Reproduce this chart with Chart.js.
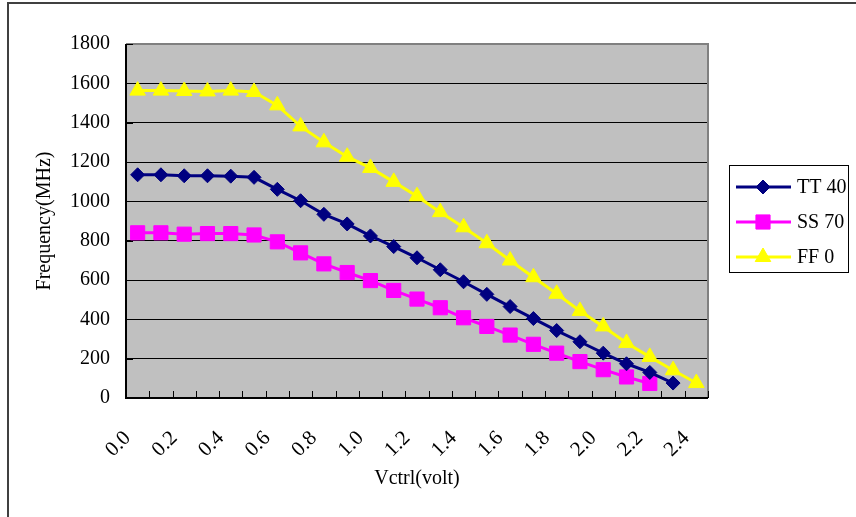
<!DOCTYPE html>
<html>
<head>
<meta charset="utf-8">
<script src="https://cdn.jsdelivr.net/npm/chart.js@4"></script>
<style>
  html, body { margin: 0; padding: 0; background: #fff; }
</style>
</head>
<body>
<canvas id="myChart" width="856" height="517"></canvas>
<script>
// x categories (Vctrl in volt) and the labels shown on the axis
const vctrl = ['0.0', '0.1', '0.2', '0.3', '0.4', '0.5', '0.6', '0.7', '0.8', '0.9',
    '1.0', '1.1', '1.2', '1.3', '1.4', '1.5', '1.6', '1.7', '1.8', '1.9',
    '2.0', '2.1', '2.2', '2.3', '2.4'];
const tickLabels = ['0.0', '0.2', '0.4', '0.6', '0.8', '1.0', '1.2', '1.4', '1.6', '1.8', '2.0', '2.2', '2.4'];

const seriesNames = ['TT 40', 'SS 70', 'FF 0'];

// Frequency (MHz)
const tt40 = [1135, 1135, 1130, 1130, 1128, 1122, 1061, 1003, 934, 885,
    824, 770, 713, 652, 591, 527, 465, 404, 343, 286,
    228, 174, 130, 76];
const ss70 = [840, 840, 833, 836, 836, 829, 794, 738, 682, 638,
    597, 547, 503, 459, 408, 364, 320, 273, 228, 185,
    144, 107, 74];
const ff0 = [1563, 1563, 1561, 1559, 1563, 1556, 1488, 1381, 1300, 1227,
    1170, 1099, 1026, 945, 868, 787, 699, 614, 530, 442,
    364, 280, 209, 141, 76];

const yTicks = [0, 200, 400, 600, 800, 1000, 1200, 1400, 1600, 1800];

Chart.defaults.font.family = "'Liberation Serif', 'Times New Roman', serif";
Chart.defaults.font.size = 20;
Chart.defaults.color = '#000';

// gray plot area + outer frame of the picture
const plotBackground = {
    id: 'plotBackground',
    beforeDraw(chart) {
        const ctx = chart.ctx;
        const a = chart.chartArea;
        ctx.save();
        ctx.fillStyle = '#fff';
        ctx.fillRect(0, 0, chart.width, chart.height);
        ctx.strokeStyle = '#404040';
        ctx.lineWidth = 2;
        ctx.beginPath();
        ctx.moveTo(8, chart.height);
        ctx.lineTo(8, 3);
        ctx.lineTo(chart.width, 3);
        ctx.stroke();
        ctx.fillStyle = '#c0c0c0';
        ctx.fillRect(a.left, a.top, a.right - a.left, a.bottom - a.top);
        ctx.restore();
    }
};

// axis lines, plot border and inside tick marks
const plotFrame = {
    id: 'plotFrame',
    beforeDatasetsDraw(chart) {
        const ctx = chart.ctx;
        const a = chart.chartArea;
        const xs = chart.scales.x;
        const ys = chart.scales.y;
        ctx.save();
        ctx.lineWidth = 2;
        ctx.strokeStyle = '#808080';
        ctx.beginPath();
        ctx.moveTo(a.left, a.top);
        ctx.lineTo(a.right, a.top);
        ctx.lineTo(a.right, a.bottom);
        ctx.stroke();
        ctx.strokeStyle = '#000';
        ctx.beginPath();
        ctx.moveTo(a.left, a.top);
        ctx.lineTo(a.left, a.bottom);
        ctx.lineTo(a.right, a.bottom);
        ctx.stroke();

        ctx.lineWidth = 1;
        const step = xs.getPixelForValue(1) - xs.getPixelForValue(0);
        ctx.beginPath();
        for (let i = 0; i <= vctrl.length; i++) {
            const x = Math.round(xs.getPixelForValue(i) - step / 2) + 0.5;
            ctx.moveTo(x, a.bottom);
            ctx.lineTo(x, a.bottom - 7);
        }
        yTicks.forEach(function (v) {
            const y = Math.round(ys.getPixelForValue(v)) + 0.5;
            ctx.moveTo(a.left, y);
            ctx.lineTo(a.left + 7, y);
        });
        ctx.stroke();
        ctx.restore();
    }
};

// Excel style legend: line with marker in the middle
const boxLegend = {
    id: 'boxLegend',
    afterDraw(chart) {
        const ctx = chart.ctx;
        const bx = 729, by = 165, bw = 119, bh = 107;
        ctx.save();
        ctx.strokeStyle = '#000';
        ctx.lineWidth = 1;
        ctx.strokeRect(bx + 0.5, by + 0.5, bw, bh);
        const rows = [187, 222, 257];
        chart.data.datasets.forEach(function (ds, i) {
            const y = rows[i];
            ctx.strokeStyle = ds.borderColor;
            ctx.lineWidth = ds.borderWidth;
            ctx.beginPath();
            ctx.moveTo(736, y);
            ctx.lineTo(791, y);
            ctx.stroke();
            ctx.fillStyle = ds.pointBackgroundColor;
            ctx.strokeStyle = ds.pointBorderColor;
            ctx.lineWidth = 1;
            Chart.helpers.drawPoint(ctx, {
                pointStyle: ds.pointStyle,
                radius: ds.pointRadius,
                rotation: 0,
                borderWidth: 1
            }, 763, y);
            ctx.fillStyle = '#000';
            ctx.font = "20px 'Liberation Serif', 'Times New Roman', serif";
            ctx.textBaseline = 'middle';
            ctx.textAlign = 'left';
            ctx.fillText(ds.label, 797, y + 1);
        });
        ctx.restore();
    }
};

function series(label, data, color, style, radius) {
    return {
        label: label,
        data: data,
        borderColor: color,
        backgroundColor: color,
        borderWidth: 3,
        pointStyle: style,
        pointRadius: radius,
        pointHoverRadius: radius,
        pointBackgroundColor: color,
        pointBorderColor: color,
        pointBorderWidth: 1,
        tension: 0
    };
}

const config = {
    type: 'line',
    data: {
        labels: vctrl,
        datasets: [
            series(seriesNames[0], tt40, '#000080', 'rectRot', 7),
            series(seriesNames[1], ss70, '#ff00ff', 'rect', 10),
            series(seriesNames[2], ff0, '#ffff00', 'triangle', 9)
        ]
    },
    options: {
        responsive: false,
        animation: false,
        layout: { padding: { left: 8, top: 44, right: 148, bottom: 0 } },
        plugins: {
            legend: { display: false },
            tooltip: { enabled: false }
        },
        scales: {
            x: {
                offset: true,
                grid: { display: false },
                border: { display: false },
                ticks: {
                    autoSkip: false,
                    minRotation: 45,
                    maxRotation: 45,
                    padding: 20,
                    labelOffset: -10,
                    font: { size: 21 },
                    callback: function (value, index) {
                        const lab = vctrl[index];
                        return tickLabels.includes(lab) ? lab : '';
                    }
                },
                title: {
                    display: true,
                    text: 'Vctrl(volt)',
                    padding: { top: 26, bottom: 26 }
                },
                afterFit: function (scale) { scale.height = 119; }
            },
            y: {
                min: 0,
                max: 1800,
                grid: { color: '#000', lineWidth: 1, drawTicks: false },
                border: { display: false },
                ticks: {
                    stepSize: 200,
                    padding: 16,
                    callback: function (value) { return String(value); }
                },
                title: {
                    display: true,
                    text: 'Frequency(MHz)',
                    padding: { top: 25, bottom: 25 }
                },
                afterFit: function (scale) { scale.width = 118; }
            }
        }
    },
    plugins: [plotBackground, plotFrame, boxLegend]
};

const myChart = new Chart(document.getElementById('myChart'), config);
</script>
</body>
</html>
